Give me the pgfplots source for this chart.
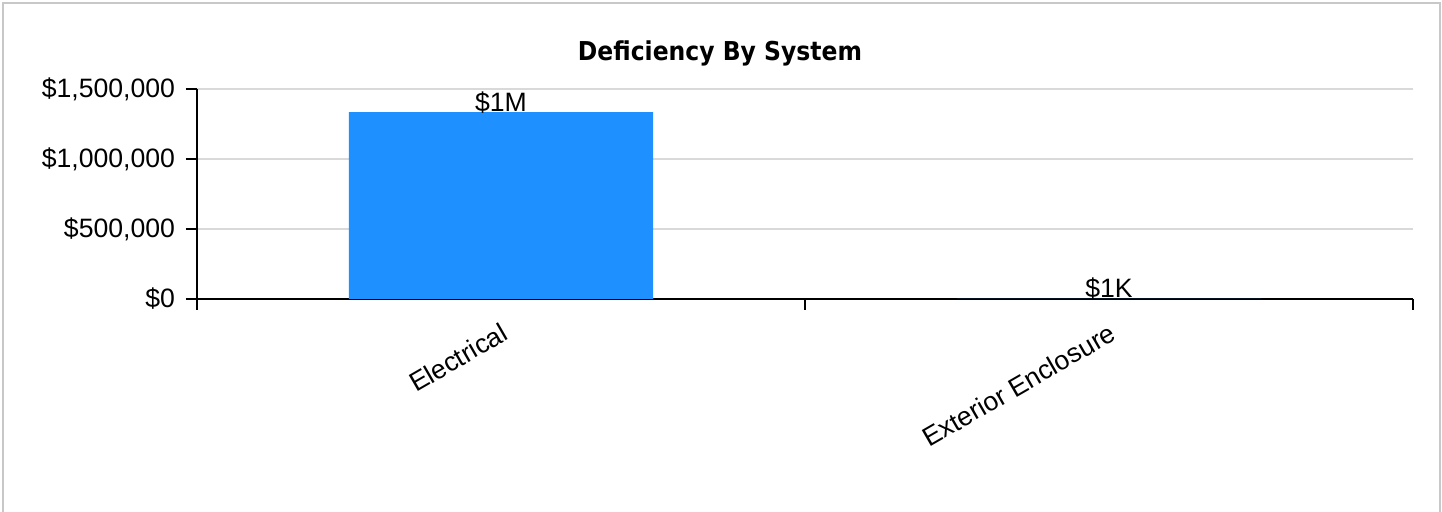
\documentclass[border=0pt]{standalone}
\usepackage{pgfplots}
\pgfplotsset{compat=1.18}
\usepackage{fontspec}
\setmainfont{Liberation Sans}
\newfontfamily\titlefont{DejaVu Sans}
\definecolor{barblue}{HTML}{1E90FF}
\definecolor{gridgray}{HTML}{D9D9D9}
\definecolor{framegray}{HTML}{C8C8C8}
\begin{document}
\begin{tikzpicture}
\useasboundingbox (0pt,0pt) rectangle (721pt,256pt);
\draw[framegray, line width=1pt] (1.35pt,-2pt) -- (1.35pt,254.3pt) -- (720.2pt,254.3pt) -- (720.2pt,-2pt);
\node[anchor=base, inner sep=0pt] at (360pt,225.6pt) {\resizebox{142pt}{\height}{\titlefont\fontsize{13pt}{16pt}\selectfont\bfseries Deficiency By System}};
\begin{axis}[
  at={(98.5pt,106.5pt)}, anchor=south west,
  scale only axis, width=608pt, height=105pt,
  xmin=-0.5, xmax=1.5, ymin=0, ymax=1500000,
  scaled y ticks=false,
  axis x line=bottom, axis y line=left,
  axis line style={-, black, line width=1pt},
  xtick={0,1}, xticklabels={Electrical, Exterior Enclosure},
  minor xtick={-0.5,0.5,1.5},
  ytick={0,500000,1000000,1500000},
  yticklabels={{\$0},{\$500,000},{\$1,000,000},{\$1,500,000}},
  tick align=outside,
  major tick length=5.5pt, minor tick length=5.5pt,
  x tick style={draw=none}, minor x tick style={draw=black, line width=0.8pt},
  y tick style={black, line width=0.8pt},
  ymajorgrids, grid style={gridgray, line width=0.6pt},
  tick label style={font=\fontsize{13.3pt}{15pt}\selectfont},
  yticklabel style={xshift=-2pt},
  xticklabel style={rotate=30, anchor=north east, yshift=-1.5pt},
  ybar, bar width=0.5,
  nodes near coords, point meta=explicit symbolic,
  every node near coord/.append style={anchor=base, inner sep=0pt, yshift=0.5pt, text=black, font=\fontsize{13.3pt}{15pt}\selectfont},
  clip=false,
]
\addplot[fill=barblue, draw=none] coordinates {(0,1335000) [\$1M] (1,1200) [\$1K]};
\end{axis}
\end{tikzpicture}
\end{document}
